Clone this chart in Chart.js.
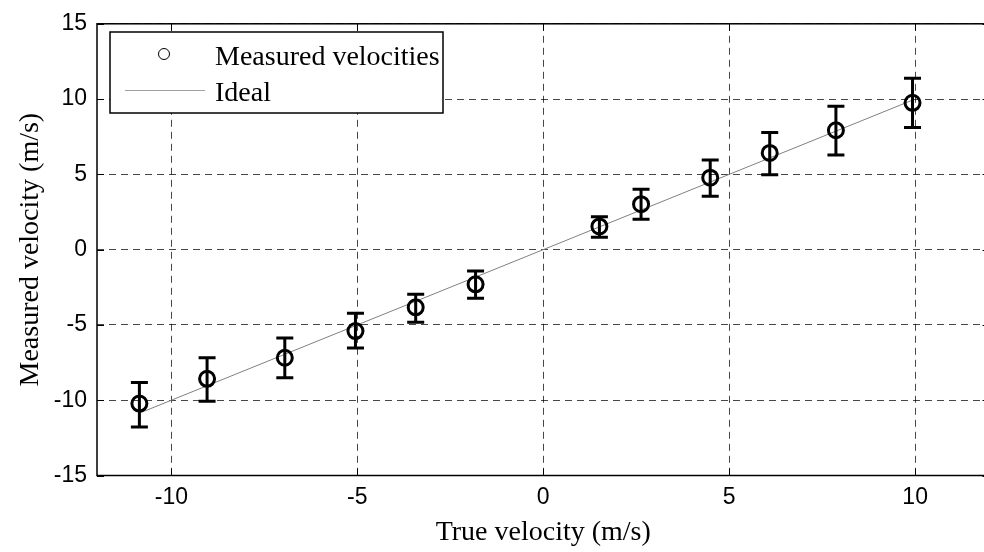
<!DOCTYPE html>
<html>
<head>
<meta charset="utf-8">
<script src="https://cdn.jsdelivr.net/npm/chart.js@4/dist/chart.umd.min.js"></script>
<style>
  html, body { margin: 0; padding: 0; background: #fff; overflow: hidden; }
  #wrap { width: 1000px; height: 552px; }
</style>
</head>
<body>
<div id="wrap"><canvas id="chart" width="1000" height="552"></canvas></div>
<script>
// ---- data ----
const trueVel  = [-10.86, -9.04, -6.95, -5.05, -3.43, -1.82, 1.51, 2.63, 4.49, 6.09, 7.87, 9.93];
const measVel  = [-10.22, -8.58, -7.18, -5.41, -3.83, -2.30, 1.54, 3.02, 4.78, 6.42, 7.93, 9.75];
const errUpper = [-8.82, -7.18, -5.87, -4.22, -2.96, -1.42, 2.19, 4.01, 5.96, 7.78, 9.53, 11.39];
const errLower = [-11.78, -10.07, -8.50, -6.54, -4.82, -3.22, 0.83, 2.02, 3.55, 4.97, 6.29, 8.12];
const idealEnds = [-10.86, 9.93];
const xTicks = [-10, -5, 0, 5, 10];
const yTicks = [-15, -10, -5, 0, 5, 10, 15];
const legendLabels = ["Measured velocities", "Ideal"];

const serif = "'Liberation Serif', 'Times New Roman', serif";
const sans = "'Liberation Sans', Arial, sans-serif";

// error bars, drawn through the scales
const errorBars = {
    id: "errorBars",
    afterDatasetsDraw(chart) {
        const ctx = chart.ctx;
        const xs = chart.scales.x, ys = chart.scales.y;
        ctx.save();
        ctx.strokeStyle = "#000";
        ctx.lineWidth = 3;
        trueVel.forEach((v, i) => {
            const px = xs.getPixelForValue(v);
            const top = ys.getPixelForValue(errUpper[i]);
            const bot = ys.getPixelForValue(errLower[i]);
            ctx.beginPath();
            ctx.moveTo(px, top); ctx.lineTo(px, bot);
            ctx.moveTo(px - 8.5, top); ctx.lineTo(px + 8.5, top);
            ctx.moveTo(px - 8.5, bot); ctx.lineTo(px + 8.5, bot);
            ctx.stroke();
        });
        ctx.restore();
    }
};

// axes box with inward ticks, then the legend box
const boxAndLegend = {
    id: "boxAndLegend",
    afterDraw(chart) {
        const ctx = chart.ctx;
        const a = chart.chartArea;
        const xs = chart.scales.x, ys = chart.scales.y;
        const tl = 7;
        ctx.save();
        ctx.strokeStyle = "#000";
        ctx.lineWidth = 1.5;
        ctx.strokeRect(a.left, a.top, a.right - a.left, a.bottom - a.top);
        ctx.lineWidth = 1;
        ctx.beginPath();
        xTicks.forEach(t => {
            const p = Math.round(xs.getPixelForValue(t)) + 0.5;
            ctx.moveTo(p, a.bottom); ctx.lineTo(p, a.bottom - tl);
            ctx.moveTo(p, a.top); ctx.lineTo(p, a.top + tl);
        });
        yTicks.forEach(t => {
            const p = Math.round(ys.getPixelForValue(t)) + 0.5;
            ctx.moveTo(a.left, p); ctx.lineTo(a.left + tl, p);
            ctx.moveTo(a.right, p); ctx.lineTo(a.right - tl, p);
        });
        ctx.stroke();

        // legend
        const lx = 110, ly = 32, lw = 333, lh = 81;
        ctx.fillStyle = "#fff";
        ctx.fillRect(lx, ly, lw, lh);
        ctx.lineWidth = 1.5;
        ctx.strokeStyle = "#000";
        ctx.strokeRect(lx, ly, lw, lh);

        ctx.lineWidth = 1;
        ctx.beginPath();
        ctx.arc(164, 54, 5.5, 0, Math.PI * 2);
        ctx.stroke();

        ctx.strokeStyle = "#a0a0a0";
        ctx.beginPath();
        ctx.moveTo(125, 90.5); ctx.lineTo(205, 90.5);
        ctx.stroke();

        ctx.fillStyle = "#000";
        ctx.font = "28px " + serif;
        ctx.textAlign = "left";
        ctx.textBaseline = "alphabetic";
        ctx.fillText(legendLabels[0], 215, 65);
        ctx.fillText(legendLabels[1], 215, 101);
        ctx.restore();
    }
};

new Chart(document.getElementById("chart").getContext("2d"), {
    type: "scatter",
    data: {
        datasets: [
            {
                label: legendLabels[1],
                type: "line",
                data: idealEnds.map(v => ({ x: v, y: v })),
                borderColor: "#808080",
                borderWidth: 1,
                pointRadius: 0,
                fill: false,
                order: 2
            },
            {
                label: legendLabels[0],
                data: trueVel.map((v, i) => ({ x: v, y: measVel[i] })),
                pointStyle: "circle",
                pointRadius: 7.5,
                pointBorderWidth: 3,
                borderColor: "#000",
                backgroundColor: "rgba(0,0,0,0)",
                order: 1
            }
        ]
    },
    options: {
        responsive: false,
        animation: false,
        layout: { padding: { top: 18, right: 9.5, left: 0, bottom: 0 } },
        plugins: {
            legend: { display: false },
            tooltip: { enabled: false }
        },
        scales: {
            x: {
                type: "linear",
                min: -12,
                max: 12,
                afterBuildTicks: s => { s.ticks = xTicks.map(v => ({ value: v })); },
                afterFit: s => { s.height = 76.5; },
                grid: { color: "rgba(0,0,0,0.72)", lineWidth: 1, drawTicks: false },
                border: { display: false, dash: [7, 5] },
                ticks: { color: "#000", padding: 8, font: { family: sans, size: 23 } },
                title: {
                    display: true,
                    text: "True velocity (m/s)",
                    color: "#000",
                    font: { family: serif, size: 28 },
                    padding: { top: 0, bottom: 3 }
                }
            },
            y: {
                type: "linear",
                min: -15,
                max: 15,
                afterBuildTicks: s => { s.ticks = yTicks.map(v => ({ value: v })); },
                afterFit: s => { s.width = 97; },
                grid: { color: "rgba(0,0,0,0.72)", lineWidth: 1, drawTicks: false },
                border: { display: false, dash: [7, 5] },
                ticks: { color: "#000", padding: 10, font: { family: sans, size: 23 } },
                title: {
                    display: true,
                    text: "Measured velocity (m/s)",
                    color: "#000",
                    font: { family: serif, size: 28 },
                    padding: { top: 14, bottom: 0 }
                }
            }
        }
    },
    plugins: [errorBars, boxAndLegend]
});
</script>
</body>
</html>
